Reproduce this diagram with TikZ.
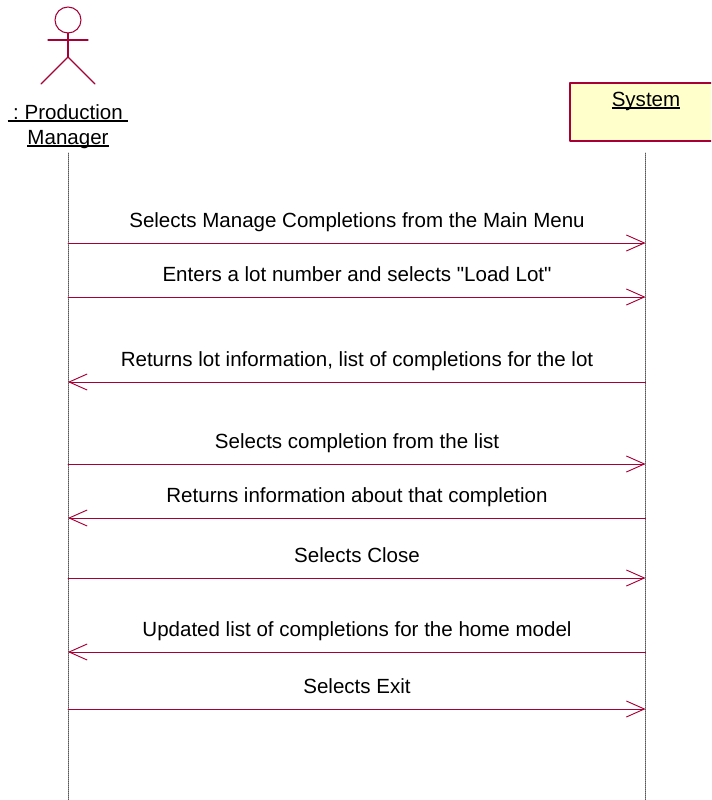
\documentclass[tikz,border=0pt]{standalone}
\usepackage{fontspec}
\setmainfont[Ligatures=TeXOff]{Liberation Sans}
\usetikzlibrary{arrows.meta}
\definecolor{umlline}{HTML}{A80036}
\definecolor{umlfill}{HTML}{FFFFCC}
\definecolor{lifegray}{HTML}{555555}
\tikzset{
  geom/.style={draw=umlline, line width=0.8pt},
  msg/.style={draw=umlline, line width=0.7pt, -{Straight Barb[length=13.5pt,width=12pt]}},
  life/.style={draw=lifegray, line width=0.6pt, dash pattern=on 0.75pt off 0.75pt},
  lab/.style={text=black, font=\fontsize{15.4}{17}\selectfont, inner sep=0pt, anchor=base},
  objbox/.style={geom, fill=umlfill, minimum width=112.5pt, minimum height=43.5pt, inner sep=0pt}
}
\newcommand{\UText}[1]{%
  \setbox0\hbox{#1}\rlap{\rule[-1.9pt]{\wd0}{0.8pt}}\box0%
}
\newcommand{\MsgRight}[3]{%
  % #1 = y, #2 = name, #3 = label
  \coordinate (pm#2) at (68,#1);
  \coordinate (sys#2) at (645.5,#1);
  \draw[msg] (pm#2) -- (sys#2);
  \node[lab] (lab#2) at (357,#1-16) {#3};
}
\newcommand{\MsgLeft}[3]{%
  \coordinate (pm#2) at (68,#1);
  \coordinate (sys#2) at (645.5,#1);
  \draw[msg] (sys#2) -- (pm#2);
  \node[lab] (lab#2) at (357,#1-16) {#3};
}
\begin{document}
\begin{tikzpicture}[x=0.75pt, y=-0.75pt, line cap=round, line join=round]
  \useasboundingbox (0,0) rectangle (711,800);
  \clip (0,0) rectangle (711,800);
  % actor
  \draw[geom] (68,20) circle[radius=13];
  \draw[geom] (48,40) -- (88,40);
  \draw[geom] (68,33) -- (68,57);
  \draw[geom] (41,84) -- (68,57) -- (95,84);
  \node[lab] (pmname) at (68,119) {\UText{\ :\ Production\ }};
  \node[lab] (pmname2) at (68,144) {\UText{Manager}};
  % system
  \node[objbox] (system) at (645,112) {};
  \node[lab] (sysname) at (646,106) {\UText{System}};
  % lifelines
  \coordinate (pmtop) at (68,153);
  \coordinate (pmend) at (68,800);
  \coordinate (systop) at (645,153);
  \coordinate (sysend) at (645,800);
  \draw[life] (pmtop) -- (pmend);
  \draw[life] (systop) -- (sysend);
  % messages
  \MsgRight{243}{a}{Selects Manage Completions from the Main Menu}
  \MsgRight{297}{b}{Enters a lot number and selects "Load Lot"}
  \MsgLeft{382}{c}{Returns lot information, list of completions for the lot}
  \MsgRight{464}{d}{Selects completion from the list}
  \MsgLeft{518}{e}{Returns information about that completion}
  \MsgRight{578}{f}{Selects Close}
  \MsgLeft{652}{g}{Updated list of completions for the home model}
  \MsgRight{709}{h}{Selects Exit}
\end{tikzpicture}
\end{document}
